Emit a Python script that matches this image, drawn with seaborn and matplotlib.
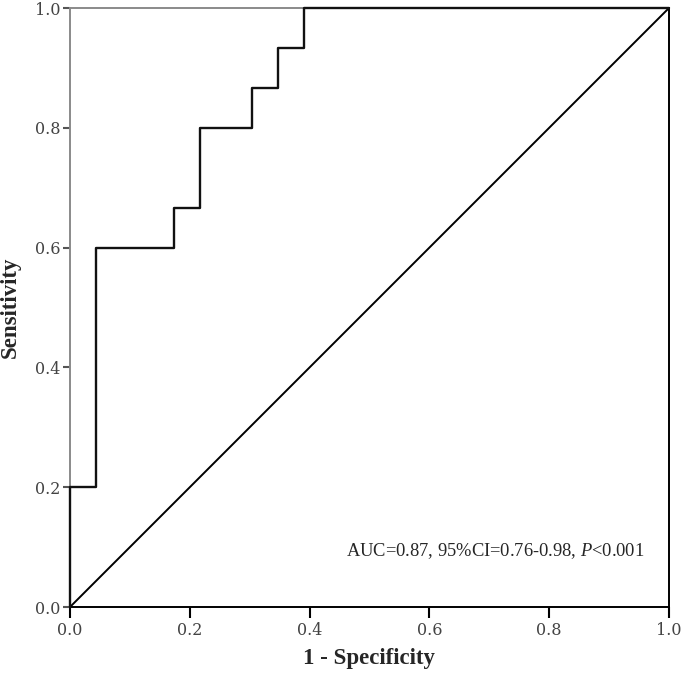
import numpy as np
import pandas as pd
import matplotlib
matplotlib.use("Agg")
import matplotlib.pyplot as plt
import seaborn as sns

# ROC curve points (steps of 1/23 and 1/15)
fpr = [0.0, 0.0, 0.0435, 0.0435, 0.1739, 0.1739, 0.2174, 0.2174,
       0.3043, 0.3043, 0.3478, 0.3478, 0.3913, 0.3913, 1.0]
tpr = [0.0, 0.2, 0.2, 0.6, 0.6, 0.6667, 0.6667, 0.8,
       0.8, 0.8667, 0.8667, 0.9333, 0.9333, 1.0, 1.0]
ref_x = [0.0, 1.0]
ref_y = [0.0, 1.0]
ticks = [0.0, 0.2, 0.4, 0.6, 0.8, 1.0]
note = "AUC=0.87, 95%CI=0.76-0.98, $\\it{P}$<0.001"

sns.set_style("ticks")
plt.rcParams['mathtext.fontset'] = 'custom'
plt.rcParams['mathtext.it'] = 'Liberation Serif:italic'
plt.rcParams['mathtext.rm'] = 'Liberation Serif'

roc = pd.DataFrame({"fpr": fpr, "tpr": tpr})
diag = pd.DataFrame({"x": ref_x, "y": ref_y})

fig = plt.figure(figsize=(6.85, 6.74), dpi=100)
ax = fig.add_axes([0.1022, 0.0994, 0.8744, 0.8887])

for side in ["bottom", "right"]:
    ax.spines[side].set_color("black")
    ax.spines[side].set_linewidth(1.4)
for side in ["left", "top"]:
    ax.spines[side].set_color("#8a8a8a")
    ax.spines[side].set_linewidth(1.4)
    ax.spines[side].set_zorder(1)

sns.lineplot(data=diag, x="x", y="y", ax=ax, color="black", linewidth=1.4,
             sort=False, estimator=None, zorder=3)
sns.lineplot(data=roc, x="fpr", y="tpr", ax=ax, color="#111111", linewidth=1.7,
             sort=False, estimator=None, clip_on=False, zorder=4)

ax.set_xlim(0, 1)
ax.set_ylim(0, 1)
ax.set_xticks(ticks)
ax.set_yticks(ticks)
ax.set_xticklabels([f"{t:.1f}" for t in ticks], family="DejaVu Serif", fontsize=11.5, color="#444444")
ax.set_yticklabels([f"{t:.1f}" for t in ticks], family="DejaVu Serif", fontsize=11.5, color="#444444")
ax.tick_params(axis="x", bottom=True, top=False, direction="out", length=8, width=1.5,
               color="black", pad=3)
ax.tick_params(axis="y", left=True, right=False, direction="out", length=5, width=1.5,
               color="#555555", pad=2)

ax.set_xlabel("1 - Specificity", family="Liberation Serif", fontweight="bold", fontsize=16.5, labelpad=6)
ax.set_ylabel("Sensitivity", family="Liberation Serif", fontweight="bold", fontsize=16.5, labelpad=10)

ax.text(0.71, 0.093, note, transform=ax.transAxes, ha="center", va="center",
        family="Liberation Serif", fontsize=13.3)

fig.savefig("out.png", dpi=100)
